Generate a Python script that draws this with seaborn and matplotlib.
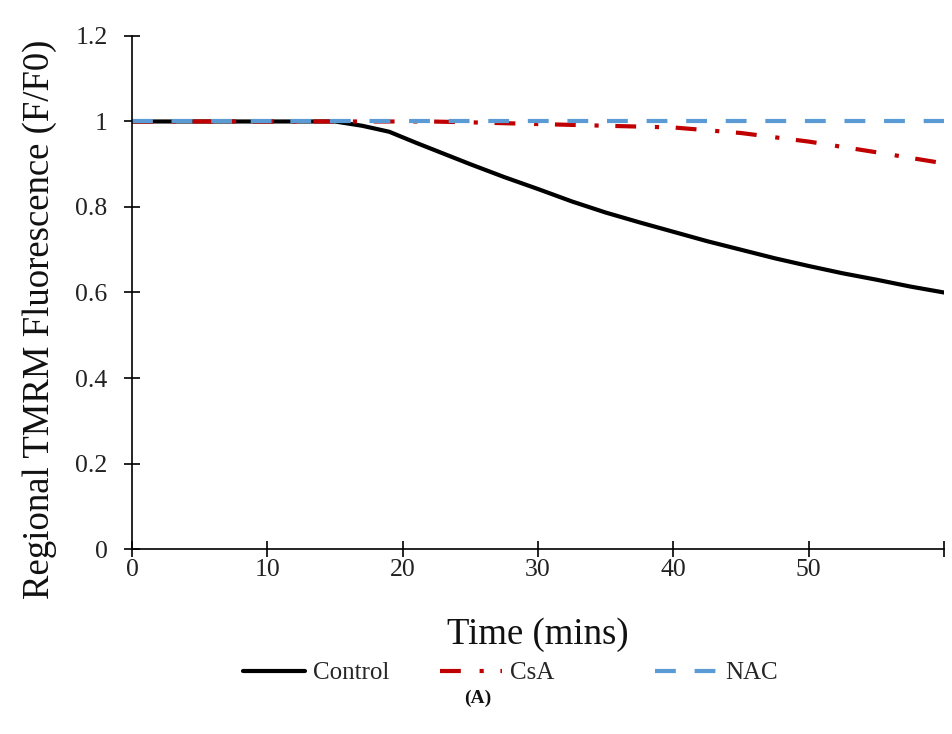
import numpy as np
import pandas as pd
import matplotlib
matplotlib.use("Agg")
import matplotlib.pyplot as plt
import seaborn as sns
from matplotlib.lines import Line2D

# Regional TMRM fluorescence (F/F0) over time for each treatment
control_time = [0, 5, 10, 15, 17, 19, 21, 23, 25, 27.5, 30, 32.5, 35, 37.5,
                40, 42.5, 45, 47.5, 50, 52.5, 55, 57.5, 60]
control_vals = [1.0, 1.0, 1.0, 1.0, 0.99, 0.976, 0.95, 0.925, 0.90, 0.87,
                0.842, 0.813, 0.787, 0.764, 0.742, 0.72, 0.70, 0.68, 0.662,
                0.645, 0.63, 0.614, 0.60]

csa_time = [0, 5, 10, 15, 20, 22, 25, 30, 35, 40, 45, 50, 55, 60]
csa_vals = [1.0, 1.0, 1.0, 1.0, 1.0, 1.0, 0.998, 0.994, 0.99, 0.986, 0.973,
            0.953, 0.928, 0.902]

nac_time = [0, 10, 20, 30, 40, 50, 60]
nac_vals = [1.0, 1.0, 1.0, 1.0, 1.0, 1.0, 1.0]

groups = ["Control", "CsA", "NAC"]
x_ticks = [0, 10, 20, 30, 40, 50, 60]
x_tick_labels = ["0", "10", "20", "30", "40", "50", ""]
y_ticks = [0, 0.2, 0.4, 0.6, 0.8, 1.0, 1.2]

df = pd.concat([
    pd.DataFrame({"Time": control_time, "F": control_vals, "Group": "Control"}),
    pd.DataFrame({"Time": csa_time, "F": csa_vals, "Group": "CsA"}),
    pd.DataFrame({"Time": nac_time, "F": nac_vals, "Group": "NAC"}),
], ignore_index=True)

sns.set_theme(style="white")
plt.rcParams["font.family"] = ["Liberation Serif", "DejaVu Serif"]

palette = {"Control": "#000000", "CsA": "#C00000", "NAC": "#5B9BD5"}
dashes = {"Control": "", "CsA": (5, 4.5, 1, 4), "NAC": (5, 4.5)}
LW = 3.0

fig = plt.figure(figsize=(9.52, 7.34), dpi=100)
ax = fig.add_axes([0.1387, 0.252, 0.8529, 0.699])

sns.lineplot(data=df, x="Time", y="F", hue="Group", style="Group",
             hue_order=groups, style_order=groups, palette=palette,
             dashes=dashes, linewidth=LW, ax=ax, legend=False,
             estimator=None, sort=True)

ax.set_xlim(0, 60)
ax.set_ylim(0, 1.2)
ax.set_xticks(x_ticks)
ax.set_xticklabels(x_tick_labels)
ax.set_yticks(y_ticks)
ax.set_yticklabels([f"{v:g}" for v in y_ticks])

for side in ("top", "right"):
    ax.spines[side].set_visible(False)
for side in ("left", "bottom"):
    ax.spines[side].set_color("black")
    ax.spines[side].set_linewidth(1.2)

ax.tick_params(axis="both", direction="inout", length=11, width=1.2,
               color="black", labelsize=18.5, labelcolor="#222222",
               bottom=True, left=True)
ax.tick_params(axis="x", pad=2)
ax.tick_params(axis="y", pad=12)

ax.set_xlabel("Time (mins)", fontsize=26.5, color="#111111")
ax.set_ylabel("Regional TMRM Fluorescence (F/F0)", fontsize=26.5, color="#111111")
ax.xaxis.set_label_coords(0.5, -0.134)
ax.yaxis.set_label_coords(-0.093, 0.448)

# One legend entry per column, spaced evenly under the plot
legend_x = [0.255, 0.462, 0.688]
for g, lx in zip(groups, legend_x):
    h = Line2D([], [], color=palette[g], linewidth=LW,
               linestyle=(0, dashes[g]) if dashes[g] else "-")
    fig.legend([h], [g], loc="center left", bbox_to_anchor=(lx, 0.083),
               frameon=False, fontsize=18, handlelength=2.5,
               handletextpad=0.3, borderpad=0, borderaxespad=0)

fig.text(0.502, 0.049, "(A)", ha="center", va="center", fontsize=14,
         fontweight="bold", color="#111111")

fig.savefig("out.png", dpi=100, facecolor="white")
